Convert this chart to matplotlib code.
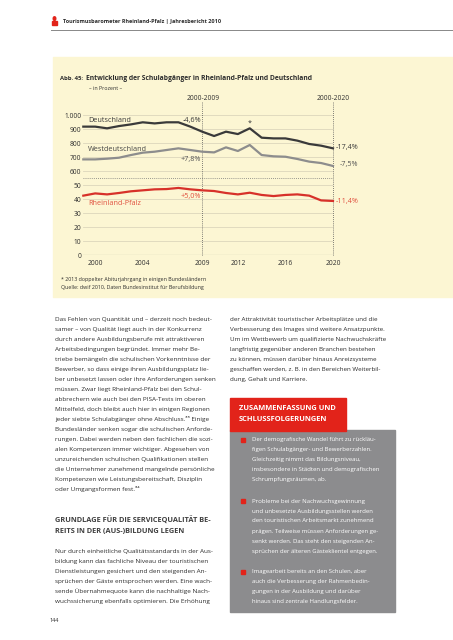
import matplotlib.pyplot as plt
import numpy as np
from matplotlib.patches import Rectangle, Circle

plt.rcParams['font.family'] = ['Open Sans', 'DejaVu Sans']

# data (Schulabgänger, in 1.000)
years = list(range(1999, 2021))
deutschland = [917, 917, 905, 921, 933, 948, 940, 948, 948, 917, 881,
               850, 881, 864, 905, 838, 833, 833, 817, 793, 781, 762]
westdeutschland = [683, 683, 688, 695, 714, 731, 738, 750, 762, 750, 738,
                   733, 769, 743, 786, 714, 705, 702, 686, 667, 657, 636]
rheinland_pfalz = [42.4, 44.0, 43.3, 44.3, 45.5, 46.2, 46.9, 47.1, 47.9, 46.9, 46.2,
                   45.7, 44.3, 43.3, 44.5, 42.9, 42.1, 42.9, 43.3, 42.4, 39.0, 38.6]
xticks = [2000, 2004, 2009, 2012, 2016, 2020]
yticks = [0, 10, 20, 30, 40, 50, 600, 700, 800, 900, 1000]
ylabels = ['0', '10', '20', '30', '40', '50', '600', '700', '800', '900', '1.000']

W, H = 453, 640
fig = plt.figure(figsize=(W / 100, H / 100), dpi=100)

DARK = '#3a3a3a'
TXT = '#2e2e2e'


def px(x, y):
    return x / W, 1 - y / H


def t(x, y, s, **kw):
    kw.setdefault('color', TXT)
    kw.setdefault('va', 'center')
    fig.text(*px(x, y), s, **kw)


def rect(x0, y0, x1, y1, color, z=0):
    fig.patches.append(Rectangle(px(x0, y1), (x1 - x0) / W, (y1 - y0) / H,
                                 transform=fig.transFigure, color=color, zorder=z))


# header
rect(52, 21, 57, 25, '#e2231a')
fig.patches.append(Circle(px(54.5, 18.6), 1.3 / W, transform=fig.transFigure, color='#e2231a'))
t(63, 21.7, 'Tourismusbarometer Rheinland-Pfalz | Jahresbericht 2010', fontsize=3.95, weight='bold')
fig.add_artist(plt.Line2D([51 / W, 1], [1 - 30 / H] * 2, color='#888888', lw=0.7))

# chart box
rect(53, 57, 453, 297, '#fcf6d3', z=-5)
t(59.5, 78, 'Abb. 45:', fontsize=4.2, weight='bold')
t(86.5, 78, 'Entwicklung der Schulabgänger in Rheinland-Pfalz und Deutschland', fontsize=4.9, weight='bold')
t(89, 89, '– in Prozent –', fontsize=3.8)
t(203, 99, '2000-2009', fontsize=4.8, ha='center')
t(333, 99, '2000-2020', fontsize=4.8, ha='center')


def fwd(v):
    v = np.asarray(v, dtype=float)
    return np.where(v <= 50, v, np.where(v < 600, 50 + (v - 50) * 10 / 550, 60 + (v - 600) / 10))


def inv(u):
    u = np.asarray(u, dtype=float)
    return np.where(u <= 50, u, np.where(u < 60, 50 + (u - 50) * 55, 600 + (u - 60) * 10))


ax = fig.add_axes([83.3 / W, 1 - 255 / H, (333 - 83.3) / W, (255 - 102) / H])
ax.set_facecolor('none')
ax.set_yscale('function', functions=(fwd, inv))
ax.set_xlim(1999, 2020)
ax.set_ylim(0, 1093)
for s in ax.spines.values():
    s.set_visible(False)
ax.set_yticks(yticks, ylabels)
ax.set_xticks(xticks)
ax.tick_params(length=0, labelsize=4.8, labelcolor=TXT)
ax.tick_params(axis='y', pad=1.5)
ax.tick_params(axis='x', pad=3.5)
for v in yticks[1:]:
    ax.axhline(v, color='#dcd6bc', lw=0.6, zorder=0)
ax.axhline(0, color='#8a8a8a', lw=0.8, zorder=1)
ax.axhline(325, color='#777777', lw=0.6, ls=(0, (1, 1.5)), zorder=1)
for yr in (2009, 2020):
    ax.axvline(yr, color='#555555', lw=0.6, ls=(0, (1, 1.5)), zorder=1, clip_on=False)

ax.plot(years, deutschland, color=DARK, lw=1.6, zorder=3, clip_on=False)
ax.plot(years, westdeutschland, color='#8d8d8d', lw=1.6, zorder=3, clip_on=False)
ax.plot(years, rheinland_pfalz, color='#d7312a', lw=1.6, zorder=3, clip_on=False)

fs = 5.2
ax.text(1999.4, 964, 'Deutschland', fontsize=fs, color=DARK, va='center')
ax.text(1999.4, 757, 'Westdeutschland', fontsize=fs, color='#444444', va='center')
ax.text(1999.4, 37.1, 'Rheinland-Pfalz', fontsize=fs, color='#e0503f', va='center')
ax.text(2008.9, 964, '-4,6%', fontsize=fs, color=DARK, va='center', ha='right')
ax.text(2008.9, 679, '+7,8%', fontsize=fs, color='#555555', va='center', ha='right')
ax.text(2008.9, 42.1, '+5,0%', fontsize=fs, color='#e0503f', va='center', ha='right')
ax.text(2020.25, 771, '-17,4%', fontsize=fs, color=DARK, va='center')
ax.text(2020.55, 650, '-7,5%', fontsize=fs, color='#555555', va='center')
ax.text(2020.25, 37.9, '-11,4%', fontsize=fs, color='#e0503f', va='center')
ax.text(2013, 943, '*', fontsize=fs, color=DARK, va='center', ha='center')

t(61, 279, '* 2013 doppelter Abiturjahrgang in einigen Bundesländern', fontsize=3.8)
t(61, 287, 'Quelle: dwif 2010, Daten Bundesinstitut für Berufsbildung', fontsize=3.8)

# left column
left1 = [
    'Das Fehlen von Quantität und – derzeit noch bedeut-',
    'samer – von Qualität liegt auch in der Konkurrenz',
    'durch andere Ausbildungsberufe mit attraktiveren',
    'Arbeitsbedingungen begründet. Immer mehr Be-',
    'triebe bemängeln die schulischen Vorkenntnisse der',
    'Bewerber, so dass einige ihren Ausbildungsplatz lie-',
    'ber unbesetzt lassen oder ihre Anforderungen senken',
    'müssen. Zwar liegt Rheinland-Pfalz bei den Schul-',
    'abbrechern wie auch bei den PISA-Tests im oberen',
    'Mittelfeld, doch bleibt auch hier in einigen Regionen',
    'jeder siebte Schulabgänger ohne Abschluss.³³ Einige',
    'Bundesländer senken sogar die schulischen Anforde-',
    'rungen. Dabei werden neben den fachlichen die sozi-',
    'alen Kompetenzen immer wichtiger. Abgesehen von',
    'unzureichenden schulischen Qualifikationen stellen',
    'die Unternehmer zunehmend mangelnde persönliche',
    'Kompetenzen wie Leistungsbereitschaft, Disziplin',
    'oder Umgangsformen fest.³⁴',
]
body = 4.6
for i, s in enumerate(left1):
    t(55, 319.3 + 10 * i, s, fontsize=body)

t(55, 521, 'GRUNDLAGE FÜR DIE SERVICEQUALITÄT BE-', fontsize=5.3, weight='bold', color='#404040')
t(55, 531, 'REITS IN DER (AUS-)BILDUNG LEGEN', fontsize=5.3, weight='bold', color='#404040')

left2 = [
    'Nur durch einheitliche Qualitätsstandards in der Aus-',
    'bildung kann das fachliche Niveau der touristischen',
    'Dienstleistungen gesichert und den steigenden An-',
    'sprüchen der Gäste entsprochen werden. Eine wach-',
    'sende Übernahmequote kann die nachhaltige Nach-',
    'wuchssicherung ebenfalls optimieren. Die Erhöhung',
]
for i, s in enumerate(left2):
    t(55, 551 + 10 * i, s, fontsize=body)

t(49, 621, '144', fontsize=4.0)

# right column
right1 = [
    'der Attraktivität touristischer Arbeitsplätze und die',
    'Verbesserung des Images sind weitere Ansatzpunkte.',
    'Um im Wettbewerb um qualifizierte Nachwuchskräfte',
    'langfristig gegenüber anderen Branchen bestehen',
    'zu können, müssen darüber hinaus Anreizsysteme',
    'geschaffen werden, z. B. in den Bereichen Weiterbil-',
    'dung, Gehalt und Karriere.',
]
for i, s in enumerate(right1):
    t(230, 319.3 + 10 * i, s, fontsize=4.5)

rect(230, 398, 346, 431, '#e2231a', z=1)
t(239, 409, 'ZUSAMMENFASSUNG UND', fontsize=5.4, weight='bold', color='white')
t(239, 419.5, 'SCHLUSSFOLGERUNGEN', fontsize=5.4, weight='bold', color='white')
rect(230, 430, 395, 612, '#8c8c8e')

bullets = [
    (440, ['Der demografische Wandel führt zu rückläu-',
           'figen Schulabgänger- und Bewerberzahlen.',
           'Gleichzeitig nimmt das Bildungsniveau,',
           'insbesondere in Städten und demografischen',
           'Schrumpfungsräumen, ab.']),
    (501, ['Probleme bei der Nachwuchsgewinnung',
           'und unbesetzte Ausbildungsstellen werden',
           'den touristischen Arbeitsmarkt zunehmend',
           'prägen. Teilweise müssen Anforderungen ge-',
           'senkt werden. Das steht den steigenden An-',
           'sprüchen der älteren Gästeklientel entgegen.']),
    (571.7, ['Imagearbeit bereits an den Schulen, aber',
             'auch die Verbesserung der Rahmenbedin-',
             'gungen in der Ausbildung und darüber',
             'hinaus sind zentrale Handlungsfelder.']),
]
for y0, lines in bullets:
    rect(240.5, y0 - 2, 244.5, y0 + 2, '#e2231a', z=2)
    for i, s in enumerate(lines):
        t(252, y0 + 10 * i, s, fontsize=4.35, color='white')

fig.savefig('out.png', dpi=100, facecolor='white')
